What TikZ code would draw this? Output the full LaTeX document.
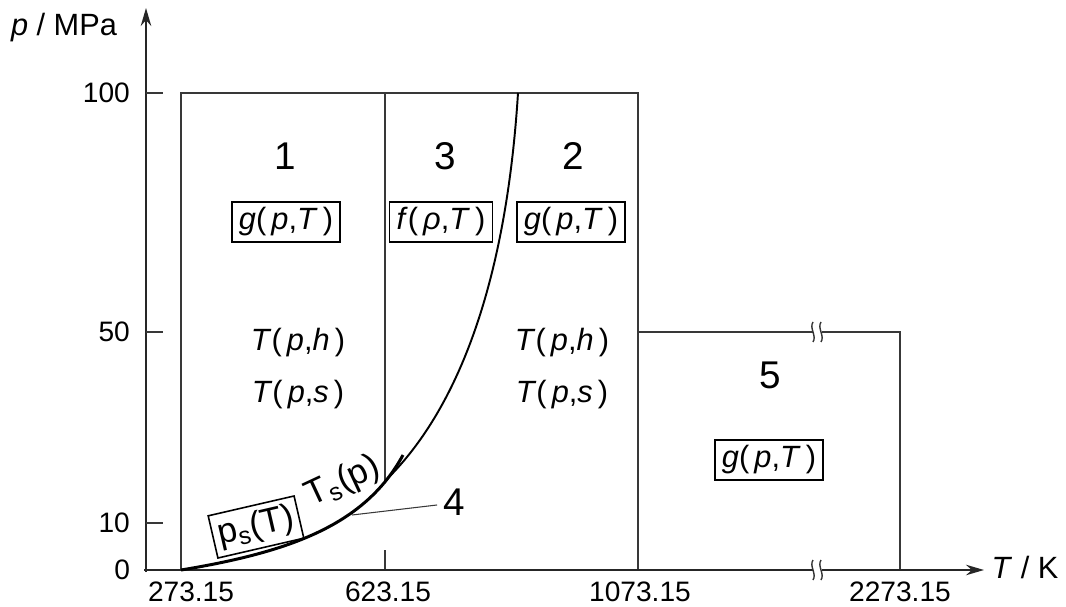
\documentclass[tikz,border=0pt]{standalone}
\usepackage{fontspec}
\setmainfont{Liberation Sans}
\usetikzlibrary{arrows.meta,positioning}
\newcommand\ital[1]{\textit{#1}}
\tikzset{
  >=Stealth,
  axis/.style={line width=1.1pt, black!85, ->, >={Stealth[length=3.6mm,width=2.1mm]}},
  border/.style={line width=0.9pt, black!78},
  ticklabel/.style={font=\fontsize{16}{19}\selectfont, inner sep=1pt},
  axislabel/.style={font=\fontsize{17.5}{21}\selectfont},
  region/.style={font=\fontsize{22}{26}\selectfont},
  eqn/.style={font=\fontsize{17.5}{21}\selectfont},
  eqnbox/.style={eqn, draw, line width=0.9pt, minimum height=7.8mm, inner xsep=4pt},
  satlabel/.style={font=\fontsize{20}{24}\selectfont},
  breakmark/.pic={
    \fill[white] (-4,-11) rectangle (5,11);
    \draw[line width=0.8pt, black!80] (-4,-10) .. controls (-8,-4) and (0,4) .. (-4,10);
    \draw[line width=0.8pt, black!80] (4,-10) .. controls (0,-4) and (8,4) .. (4,10);
  }
}
\begin{document}
\begin{tikzpicture}[x=0.2mm, y=-0.2mm]
  \useasboundingbox (0,0) rectangle (1066,607);
  % points of the regions
  \coordinate (sat0) at (181,570);
  \coordinate (crit) at (403,455);
  \coordinate (b23) at (385,481);
  \coordinate (b23top) at (518,93);
  \coordinate (lead4) at (352,515);

  % region borders
  \draw[border] (sat0) -- (181,93) -- (638,93) -- (638,570);
  \draw[border] (385,93) -- (b23);
  \draw[border] (385,570) -- (385,550);
  \draw[border] (638,332) -- (900,332) -- (900,570);

  % axes
  \draw[axis] (146,572) -- (146,8);
  \draw[axis] (144,570) -- (984,570);
  \node[axislabel] at (64,28) {\ital{p} / MPa};
  \node[axislabel] at (1025,568) {\ital{T} / K};
  \foreach \y/\lab in {93/100, 332/50, 523/10} {
    \draw[border] (146,\y) -- (163,\y);
    \node[ticklabel, anchor=east] at (132,\y) {\lab};
  }
  \node[ticklabel, anchor=east] at (132,570) {0};
  \foreach \x/\lab in {191/273.15, 388/623.15, 640/1073.15, 900/2273.15}
    \node[ticklabel, anchor=north] at (\x,580) {\lab};
  \pic at (817,332) {breakmark};
  \pic at (817,570) {breakmark};

  % saturation line and boundary 2-3
  \draw[line width=1.7pt] (sat0) .. controls (290,552) and (365,525) .. (crit);
  \draw[line width=1.1pt] (b23) .. controls (450,418) and (505,300) .. (b23top);

  % labels
  \node[region] (r1) at (285,156) {1};
  \node[region] (r3) at (445,156) {3};
  \node[region] (r2) at (573,156) {2};
  \node[region] (r5) at (770,375) {5};
  \node[eqnbox] (g1) at (286,222) {\ital{g}(\,\ital{p},\ital{T}\,)};
  \node[eqnbox] (f3) at (441,222) {\ital{f}(\,\ital{ρ},\ital{T}\,)};
  \node[eqnbox] (g2) at (571,222) {\ital{g}(\,\ital{p},\ital{T}\,)};
  \node[eqnbox] (g5) at (769,460) {\ital{g}(\,\ital{p},\ital{T}\,)};
  \node[eqn] (h1) at (298,343) {\ital{T}(\,\ital{p},\ital{h}\,)};
  \node[eqn] (s1) at (298,395) {\ital{T}(\,\ital{p},\ital{s}\,)};
  \node[eqn] (h2) at (562,343) {\ital{T}(\,\ital{p},\ital{h}\,)};
  \node[eqn] (s2) at (562,395) {\ital{T}(\,\ital{p},\ital{s}\,)};
  \node[satlabel, draw, line width=0.9pt, rotate=13, inner xsep=3pt, inner ysep=3pt] (ps) at (256,527) {p\textsubscript{s}(T)};
  \node[satlabel, rotate=25, inner sep=0pt] (ts) at (343,482) {T\textsubscript{s}(p)};
  \node[region] (r4) at (454,502) {4};
  \draw[border, line width=0.6pt] (lead4) -- (r4.190);
\end{tikzpicture}
\end{document}
